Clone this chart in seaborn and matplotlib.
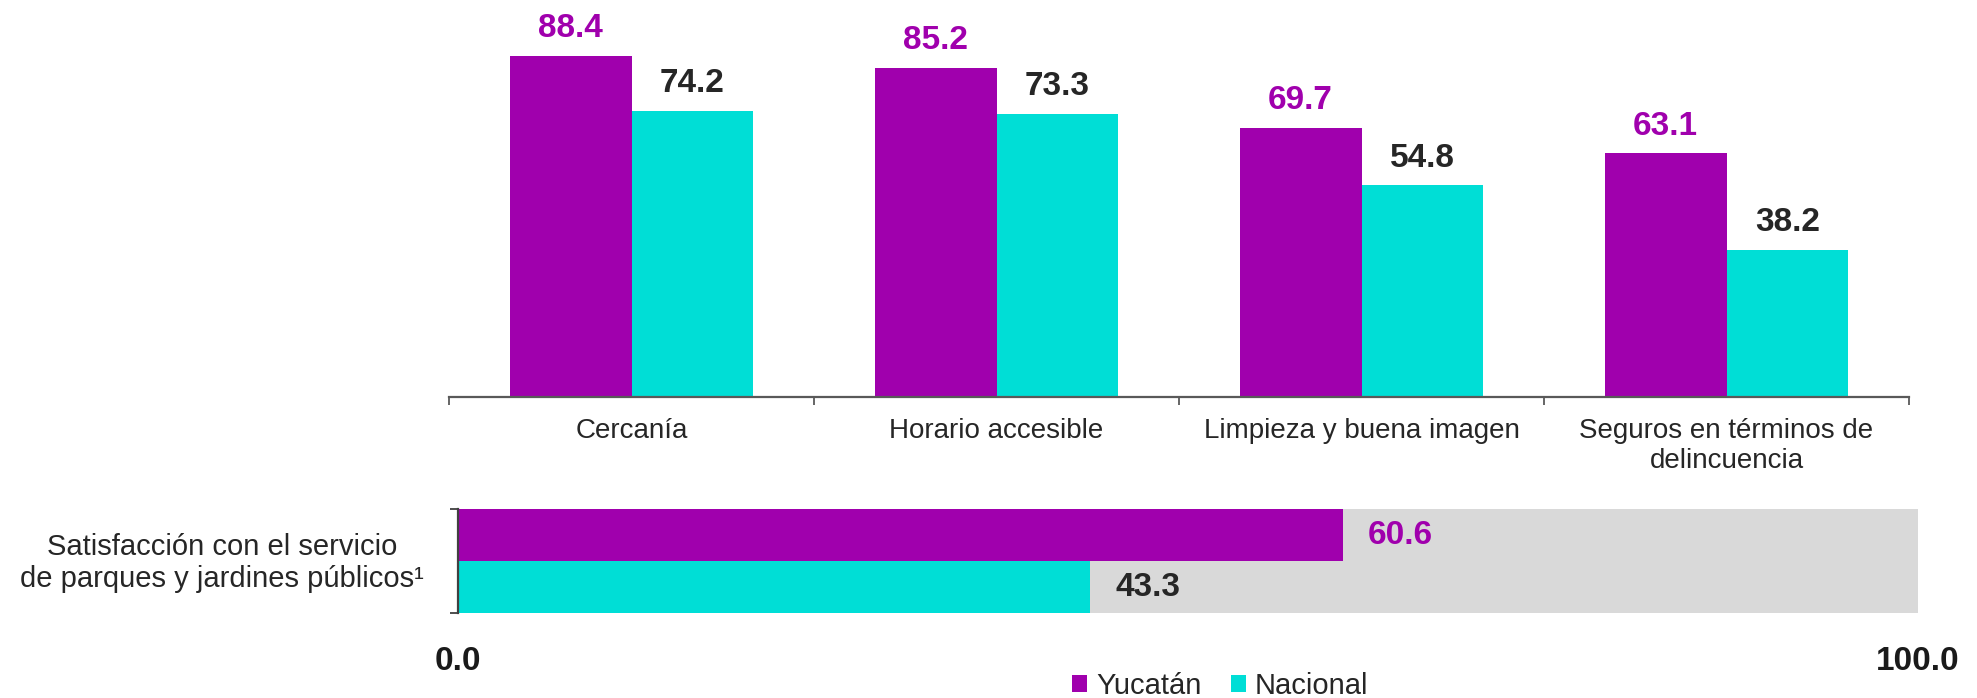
import matplotlib
matplotlib.use("Agg")
import matplotlib.pyplot as plt
import seaborn as sns
import pandas as pd

# ---- data ----
categories = ["Cercanía", "Horario accesible", "Limpieza y buena imagen",
              "Seguros en términos de\ndelincuencia"]
series = ["Yucatán", "Nacional"]
yucatan = [88.4, 85.2, 69.7, 63.1]
nacional = [74.2, 73.3, 54.8, 38.2]
satisfaction_label = "Satisfacción con el servicio\nde parques y jardines públicos¹"
satisfaction = [60.6, 43.3]
xtick_values = [0, 100]
xtick_labels = ["0.0", "100.0"]

# ---- style ----
PURPLE = "#A000AD"
CYAN = "#00DED6"
DARK = "#262626"
GRAY_BG = "#D9D9D9"
AXIS = "#595959"

sns.set_theme(style="white")
plt.rcParams["font.family"] = ["Liberation Sans", "DejaVu Sans"]

df = pd.DataFrame({
    "cat": categories * 2,
    "serie": [series[0]] * len(categories) + [series[1]] * len(categories),
    "val": yucatan + nacional,
})
df_sat = pd.DataFrame({"serie": series, "val": satisfaction})
palette = {series[0]: PURPLE, series[1]: CYAN}

W, H = 1977, 698
fig = plt.figure(figsize=(W / 100, H / 100), dpi=100)

# top grouped bars
ax = fig.add_axes([449 / W, 1 - 397 / H, (1909 - 449) / W, (397 - 11) / H])
sns.barplot(data=df, x="cat", y="val", hue="serie", order=categories,
            hue_order=series, palette=palette, width=0.668, saturation=1,
            linewidth=0, ax=ax)
ax.set_ylim(0, 100)
ax.set_xlim(-0.5, len(categories) - 0.5)
ax.set_xlabel("")
ax.set_ylabel("")
ax.set_yticks([])
for s in ["top", "right", "left"]:
    ax.spines[s].set_visible(False)
ax.spines["bottom"].set_color(AXIS)
ax.spines["bottom"].set_linewidth(1.6)
ax.set_xticks(range(len(categories)))
ax.set_xticklabels(categories, fontsize=20, color=DARK, linespacing=1.22)
ax.set_xticks([i - 0.5 for i in range(len(categories) + 1)], minor=True)
ax.tick_params(axis="x", which="major", length=0, pad=15)
ax.tick_params(axis="x", which="minor", length=6, width=1.3, color=AXIS,
               direction="out", bottom=True)
handles, labels = ax.get_legend_handles_labels()
ax.legend_.remove()
for cont, col in zip(ax.containers, [PURPLE, DARK]):
    ax.bar_label(cont, fmt="%.1f", padding=8.5, fontsize=24,
                 fontweight="bold", color=col)

# bottom satisfaction bars
ax2 = fig.add_axes([458 / W, 1 - 613 / H, (1918 - 458) / W, (613 - 509) / H])
ax2.set_facecolor(GRAY_BG)
sns.barplot(data=df_sat, x="val", y="serie", hue="serie", order=series,
            hue_order=series, palette=palette, width=1.0, saturation=1,
            linewidth=0, orient="h", legend=False, ax=ax2)
ax2.set_xlim(0, 100)
ax2.set_ylim(1.5, -0.5)
ax2.set_xlabel("")
ax2.set_ylabel("")
for s in ["top", "right", "bottom"]:
    ax2.spines[s].set_visible(False)
ax2.spines["left"].set_color("#404040")
ax2.spines["left"].set_linewidth(1.6)
ax2.set_yticks([])
ax2.set_yticks([-0.5, 1.5], minor=True)
ax2.tick_params(axis="y", which="minor", length=6, width=1.3,
                color="#404040", direction="out", left=True)
ax2.set_xticks(xtick_values)
ax2.set_xticklabels(xtick_labels, fontsize=24, fontweight="bold", color="#1a1a1a")
ax2.tick_params(axis="x", which="major", length=0, pad=24)
for cont, col in zip(ax2.containers, [PURPLE, DARK]):
    ax2.bar_label(cont, fmt="%.1f", padding=18, fontsize=24,
                  fontweight="bold", color=col)

fig.text(222 / W, 1 - 563 / H, satisfaction_label, ha="center", va="center",
         fontsize=21, color=DARK, linespacing=1.22)

fig.legend(handles, labels, loc="center", bbox_to_anchor=(1220 / W, 1 - 686 / H),
           ncol=2, frameon=False, fontsize=21, handlelength=0.52,
           handleheight=0.5, handletextpad=0.3, columnspacing=1.0,
           labelcolor=DARK)

fig.savefig("out.png", dpi=100)
